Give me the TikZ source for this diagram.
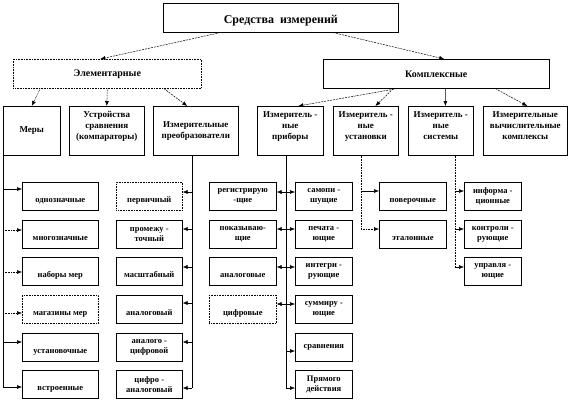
\documentclass[tikz,border=0pt]{standalone}
\usepackage{fontspec}
\setmainfont{Liberation Serif}
\usetikzlibrary{arrows.meta,calc}
\begin{document}
\begin{tikzpicture}[x=1pt,y=-1pt,
  bx/.style={draw,line width=0.6pt,anchor=north west,inner sep=0pt,align=center},
  top/.style={bx,minimum width=235pt,minimum height=29pt,font=\bfseries\fontsize{12}{14}\selectfont},
  mid/.style={bx,minimum height=29pt,font=\bfseries\fontsize{10}{12}\selectfont},
  lev/.style={bx,minimum height=49pt,font=\bfseries\fontsize{9}{11}\selectfont},
  hi/.style={text depth=10pt},
  ch/.style={bx,minimum height=28pt,font=\bfseries\fontsize{8.5}{10}\selectfont},
  low/.style={text height=15pt,text depth=2pt},
  arr/.style={-{Latex[length=5pt,width=4pt]},line width=0.5pt},
  dsh/.style={dash pattern=on 2pt off 1pt},
  dot/.style={dash pattern=on 0.8pt off 0.8pt}]
\useasboundingbox (0,0) rectangle (581,408);
% top level
\node[top,text height=11pt,text depth=0pt] (top) at (163,3) {Средства\ \ измерений};
\node[mid,minimum width=188pt,dot] (elem) at (13,59) {Элементарные};
\node[mid,minimum width=226pt] (kompl) at (323,59) {Комплексные};
% second level
\node[lev,minimum width=57pt] (mery) at (3,106) {Меры};
\node[lev,hi,minimum width=75pt] (ustr) at (69,106) {Устройства\\сравнения\\(компараторы)};
\node[lev,minimum width=85pt] (preob) at (153,106) {Измерительные\\преобразователи};
\node[lev,hi,minimum width=66pt] (prib) at (257,106) {Измеритель -\\ные\\приборы};
\node[lev,hi,minimum width=65pt] (ust) at (333,106) {Измеритель -\\ные\\установки};
\node[lev,hi,minimum width=65pt] (sist) at (408,106) {Измеритель -\\ные\\системы};
\node[lev,hi,minimum width=84pt] (komp) at (483,106) {Измерительные\\вычислительные\\комплексы};
% arrows from top
\draw[arr,dsh] ($(top.south west)!0.243!(top.south east)$) -- ($(elem.north west)!0.463!(elem.north east)$);
\draw[arr,dsh] ($(top.south west)!0.723!(top.south east)$) -- ($(kompl.north west)!0.535!(kompl.north east)$);
% arrows from elem
\draw[arr,dot] ($(elem.south west)!0.144!(elem.south east)$) -- (mery.north);
\draw[arr,dot] (elem.south) -- (ustr.north);
\draw[arr,dsh] ($(elem.south west)!0.8!(elem.south east)$) -- ($(preob.north west)!0.4!(preob.north east)$);
% arrows from kompl
\draw[arr,dsh] ($(kompl.south west)!0.327!(kompl.south east)$) -- ($(prib.north west)!0.62!(prib.north east)$);
\draw[arr,dsh] ($(kompl.south west)!0.31!(kompl.south east)$) -- ($(ust.north west)!0.646!(ust.north east)$);
\draw[arr] ($(kompl.south west)!0.54!(kompl.south east)$) -- ($(sist.north west)!0.57!(sist.north east)$);
\draw[arr,dsh] ($(kompl.south west)!0.761!(kompl.south east)$) -- ($(komp.north west)!0.524!(komp.north east)$);
% Меры children
\node[ch,minimum width=76pt,low] (m1) at (22,182) {однозначные};
\node[ch,minimum width=76pt,low] (m2) at (22,220) {многозначные};
\node[ch,minimum width=76pt,low] (m3) at (22,257) {наборы мер};
\node[ch,minimum width=76pt,low,dot] (m4) at (22,295) {магазины мер};
\node[ch,minimum width=76pt,low] (m5) at (22,333) {установочные};
\node[ch,minimum width=76pt,low] (m6) at (22,370) {встроенные};
\draw[line width=0.6pt] (mery.south west) -- (mery.south west |- 0,387);
\draw[arr] (mery.south west |- 0,189) -- (m1.west |- 0,189);
\draw[arr,dot] (mery.south west |- 0,230) -- (m2.west |- 0,230);
\draw[arr,dot] (mery.south west |- 0,272) -- (m3.west |- 0,272);
\draw[arr,dot] (mery.south west |- 0,313) -- (m4.west |- 0,313);
\draw[arr] (mery.south west |- 0,342) -- (m5.west |- 0,342);
\draw[arr] (mery.south west |- 0,387) -- (m6.west |- 0,387);
% Преобразователи children
\node[ch,minimum width=66pt,low,dot] (p1) at (116,182) {первичный};
\node[ch,minimum width=66pt] (p2) at (116,220) {промежу -\\точный};
\node[ch,minimum width=66pt,low] (p3) at (116,257) {масштабный};
\node[ch,minimum width=66pt,low] (p4) at (116,295) {аналоговый};
\node[ch,minimum width=66pt] (p5) at (116,333) {аналого -\\цифровой};
\node[ch,minimum width=66pt] (p6) at (116,370) {цифро -\\аналоговый};
\coordinate (pB) at ($(preob.south west)!0.459!(preob.south east)$);
\draw[line width=0.6pt] (pB) -- (pB |- 0,388);
\draw[arr] (pB |- 0,192) -- (p1.east |- 0,192);
\draw[arr] (pB |- 0,229) -- (p2.east |- 0,229);
\draw[arr] (pB |- 0,267) -- (p3.east |- 0,267);
\draw[arr] (pB |- 0,303) -- (p4.east |- 0,303);
\draw[arr] (pB |- 0,342) -- (p5.east |- 0,342);
\draw[arr] (pB |- 0,388) -- (p6.east |- 0,388);
% Приборы children
\node[ch,minimum width=67pt] (a1) at (209,182) {регистрирую\\-щие};
\node[ch,minimum width=67pt] (a2) at (209,220) {показываю-\\щие};
\node[ch,minimum width=67pt,low] (a3) at (209,257) {аналоговые};
\node[ch,minimum width=67pt,low,dot] (a4) at (209,295) {цифровые};
\node[ch,minimum width=57pt] (b1) at (295,182) {самопи -\\шущие};
\node[ch,minimum width=57pt] (b2) at (295,220) {печата -\\ющие};
\node[ch,minimum width=57pt] (b3) at (295,257) {интегри -\\рующие};
\node[ch,minimum width=57pt] (b4) at (295,295) {суммиру -\\ющие};
\node[ch,minimum width=57pt] (b5) at (295,333) {сравнения};
\node[ch,minimum width=57pt] (b6) at (295,370) {Прямого\\действия};
\coordinate (aB) at ($(prib.south west)!0.44!(prib.south east)$);
\draw[line width=0.6pt] (aB) -- (aB |- 0,388);
\draw[arr] (aB |- 0,192) -- (a1.east |- 0,192);
\draw[arr] (aB |- 0,229) -- (a2.east |- 0,229);
\draw[arr] (aB |- 0,267) -- (a3.east |- 0,267);
\draw[arr] (aB |- 0,304) -- (a4.east |- 0,304);
\draw[arr] (aB |- 0,192) -- (b1.west |- 0,192);
\draw[arr] (aB |- 0,229) -- (b2.west |- 0,229);
\draw[arr] (aB |- 0,267) -- (b3.west |- 0,267);
\draw[arr] (aB |- 0,304) -- (b4.west |- 0,304);
\draw[arr] (aB |- 0,351) -- (b5.west |- 0,351);
\draw[arr] (aB |- 0,388) -- (b6.west |- 0,388);
% Установки children
\node[ch,minimum width=67pt,low] (u1) at (379,182) {поверочные};
\node[ch,minimum width=67pt,low] (u2) at (379,220) {эталонные};
\coordinate (uB) at ($(ust.south west)!0.43!(ust.south east)$);
\draw[line width=0.6pt,dot] (uB) -- (uB |- 0,229);
\draw[arr] (uB |- 0,191) -- (u1.west |- 0,191);
\draw[arr,dot] (uB |- 0,229) -- (u2.west |- 0,229);
% Системы children
\node[ch,minimum width=57pt] (s1) at (464,182) {информа -\\ционные};
\node[ch,minimum width=57pt] (s2) at (464,220) {контроли -\\рующие};
\node[ch,minimum width=57pt] (s3) at (464,257) {управля -\\ющие};
\coordinate (sB) at ($(sist.south west)!0.72!(sist.south east)$);
\draw[line width=0.6pt,dot] (sB) -- (sB |- 0,267);
\draw[arr] (sB |- 0,191) -- (s1.west |- 0,191);
\draw[arr] (sB |- 0,229) -- (s2.west |- 0,229);
\draw[arr] (sB |- 0,267) -- (s3.west |- 0,267);
\end{tikzpicture}
\end{document}
